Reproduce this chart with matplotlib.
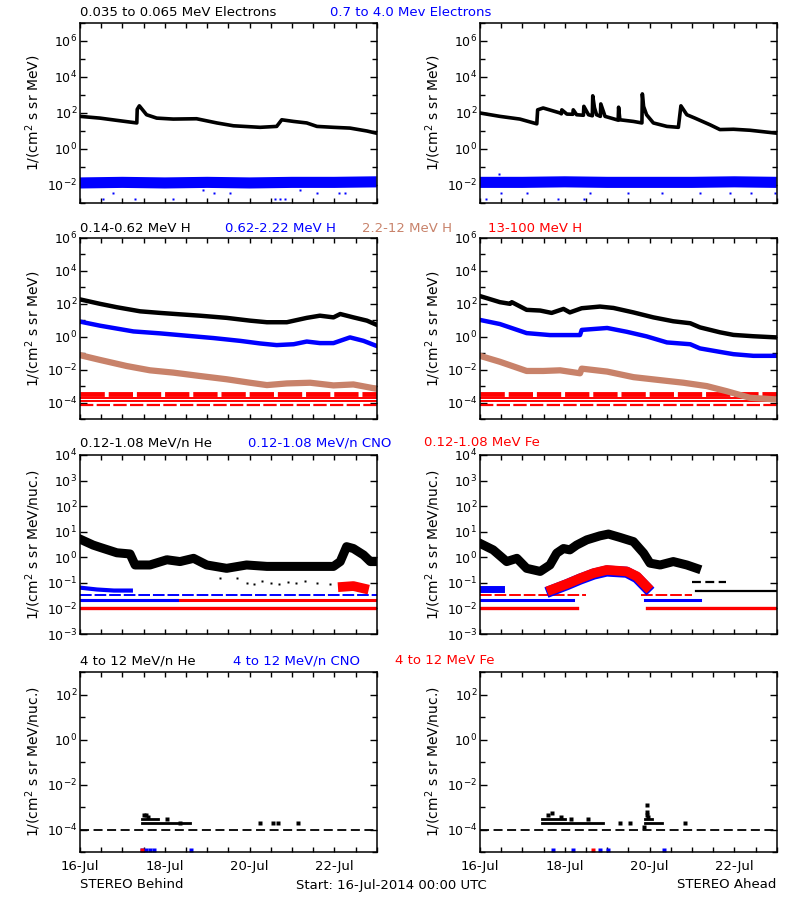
import numpy as np
import matplotlib.pyplot as plt
from matplotlib.ticker import FixedLocator, MultipleLocator, NullFormatter

plt.rcParams['font.family'] = 'DejaVu Sans'
plt.rcParams['font.size'] = 9
plt.rcParams['mathtext.fontset'] = 'dejavusans'

BLUE = '#0000ff'
RED = '#ff0000'
BROWN = '#c8826a'

# ---- row 1 : electrons (days since 16-Jul 00:00) ----
eB_t = [0, 0.47, 0.87, 1.34, 1.35, 1.40, 1.57, 1.81, 2.20, 2.75, 3.23, 3.62, 4.25, 4.64, 4.76, 5.04,
        5.35, 5.59, 5.98, 6.37, 6.77, 6.99]
eB_v = [65, 52, 39, 28, 160, 250, 80, 52, 46, 48, 28, 19.5, 16, 18, 42, 34, 28, 18, 16, 14.5, 10, 7.6]
eA_t = [0, 0.47, 0.94, 1.34, 1.36, 1.49, 1.89, 1.92, 1.93, 2.05, 2.19, 2.20, 2.28, 2.44, 2.45, 2.56,
        2.65, 2.66, 2.70, 2.75, 2.84, 2.85, 2.95, 3.26, 3.27, 3.30, 3.62, 3.82, 3.83, 3.86, 3.93, 4.09,
        4.41, 4.68, 4.74, 4.88, 5.07, 5.43, 5.66, 5.98, 6.37, 6.99]
eA_v = [100, 65, 46, 25, 150, 190, 100, 90, 150, 87, 85, 150, 80, 75, 235, 80,
        70, 900, 200, 80, 65, 320, 65, 40, 210, 42, 34, 28, 1150, 230, 80, 28,
        18, 16, 250, 80, 52, 22, 12, 12.5, 11, 7.6]
hiE_t = [0, 1, 2, 3, 4, 5, 6, 7]
hiE_B = [0.013, 0.014, 0.013, 0.014, 0.013, 0.014, 0.014, 0.015]
hiE_A = [0.014, 0.014, 0.015, 0.014, 0.014, 0.014, 0.015, 0.014]
hiE_B_out_t = [0.55, 0.79, 1.30, 2.20, 3.15, 3.55, 4.60, 4.72, 4.84, 5.60, 6.10, 6.25, 2.9, 5.2]
hiE_B_out_v = [0.0016, 0.0034, 0.0016, 0.0016, 0.0034, 0.0034, 0.0016, 0.0016, 0.0016, 0.0034,
               0.0034, 0.0034, 0.005, 0.005]
hiE_A_out_t = [0.15, 0.5, 1.1, 1.85, 2.45, 2.6, 3.5, 4.3, 5.2, 5.9, 6.4, 6.95, 0.45]
hiE_A_out_v = [0.0016, 0.0034, 0.0034, 0.0016, 0.0016, 0.0034, 0.0034, 0.0034, 0.0034, 0.0034,
               0.0034, 0.0034, 0.04]

# ---- row 2 : protons ----
p1B_t = [0, 0.47, 0.87, 1.42, 1.89, 2.36, 2.83, 3.46, 4.01, 4.41, 4.88, 5.35, 5.66, 5.98, 6.14, 6.45,
         6.77, 6.99]
p1B_v = [186, 100, 62, 35, 28, 23, 19, 14, 9.5, 7.6, 7.6, 14, 19, 15, 24, 15, 9.5, 5.4]
p2B_t = [0, 0.47, 1.26, 1.89, 2.52, 3.15, 3.78, 4.25, 4.64, 5.04, 5.35, 5.66, 5.98, 6.37, 6.69, 6.99]
p2B_v = [8.3, 4.7, 2.1, 1.6, 1.15, 0.83, 0.56, 0.39, 0.31, 0.35, 0.51, 0.41, 0.41, 0.91, 0.56, 0.28]
p3B_t = [0, 0.47, 1.10, 1.65, 2.20, 2.83, 3.46, 4.01, 4.41, 4.88, 5.43, 5.98, 6.45, 6.99]
p3B_v = [0.076, 0.039, 0.0166, 0.0091, 0.0066, 0.0041, 0.0026, 0.0016, 0.00115, 0.00145, 0.0016,
         0.0011, 0.00126, 0.00069]
p1A_t = [0, 0.47, 0.71, 0.75, 1.10, 1.42, 1.69, 1.97, 2.12, 2.40, 2.83, 3.15, 3.62, 4.09, 4.56, 4.96,
         5.19, 5.66, 5.98, 6.45, 6.99]
p1A_v = [295, 126, 100, 126, 43, 39, 28, 49, 30, 54, 68, 56, 30, 15, 8.7, 6.6, 3.7, 1.86, 1.29, 1.07,
         0.91]
p2A_t = [0, 0.47, 1.10, 1.65, 2.36, 2.40, 3.0, 3.46, 3.93, 4.41, 4.96, 5.19, 5.66, 5.98, 6.45, 6.99]
p2A_v = [10.5, 5.9, 1.66, 1.26, 1.26, 2.6, 3.4, 2.0, 1.05, 0.45, 0.35, 0.195, 0.12, 0.087, 0.069,
         0.069]
p3A_t = [0, 0.47, 1.10, 1.49, 1.89, 2.36, 2.40, 3.0, 3.62, 4.25, 4.80, 5.35, 5.82, 6.37, 6.99]
p3A_v = [0.069, 0.030, 0.0083, 0.0083, 0.0091, 0.006, 0.0115, 0.0076, 0.0035, 0.0023, 0.0016, 0.001,
         0.00049, 0.000195, 0.000155]
# 13-100 MeV H sits on count-rate floors
p4_band = 3.2e-4
p4_lines = [1.8e-4, 1.3e-4]
p4_dash = 6.9e-5

# ---- row 3 : low energy heavy ions ----
heB_t = [0.04, 0.31, 0.47, 0.87, 1.18, 1.30, 1.65, 2.05, 2.36, 2.68, 2.99, 3.46, 3.93, 4.41, 4.88,
         5.35, 5.98, 6.14, 6.29, 6.45, 6.69, 6.85, 6.99]
heB_v = [4.8, 3.0, 2.45, 1.5, 1.35, 0.5, 0.5, 0.8, 0.68, 0.91, 0.5, 0.37, 0.5, 0.44, 0.44, 0.44, 0.44,
         0.68, 2.6, 2.2, 1.23, 0.68, 0.68]
heB_out_t = [3.95, 4.1, 4.3, 4.5, 4.7, 4.9, 5.1, 5.3, 5.6, 5.9, 3.3, 3.7]
heB_out_v = [0.1, 0.09, 0.12, 0.1, 0.09, 0.11, 0.1, 0.12, 0.1, 0.09, 0.16, 0.15]
heA_t = [0, 0.31, 0.63, 0.87, 1.10, 1.42, 1.65, 1.81, 1.97, 2.12, 2.28, 2.52, 2.83, 3.03, 3.30, 3.62,
         3.86, 4.01, 4.25, 4.56, 4.88, 5.11]
heA_v = [3.5, 1.95, 0.68, 0.91, 0.37, 0.28, 0.5, 1.45, 2.2, 1.95, 3.0, 4.8, 6.9, 8.1, 6.0, 4.1, 1.45,
         0.59, 0.5, 0.68, 0.5, 0.37]
heA_floor1_t = [5.0, 5.8]
heA_floor2_t = [5.1, 7.0]
heA_floor1 = 0.112
heA_floor2 = 0.05
cnoA_t = [1.69, 2.05, 2.36, 2.68, 2.99, 3.46, 3.70, 3.93]
cnoA_v = [0.05, 0.085, 0.14, 0.22, 0.29, 0.26, 0.16, 0.065]
feA_v = [0.054, 0.091, 0.15, 0.24, 0.32, 0.28, 0.18, 0.072]
cnoB_t = [0, 0.4, 0.8, 1.2]
cnoB_v = [0.065, 0.055, 0.05, 0.05]
feB_t = [6.2, 6.45, 6.7]
feB_v = [0.07, 0.075, 0.06]
levels3 = [0.034, 0.022, 0.0105]

# ---- row 4 : 4-12 MeV/n ions ----
bg4 = 1e-4
he4B_seg = [(1.46, 2.60, 1.85e-4), (1.46, 1.85, 2.8e-4)]
he4B_pt_t = [1.50, 1.55, 1.60, 2.05, 2.35, 4.25, 4.56, 4.67, 5.15]
he4B_pt_v = [4.4e-4, 4.4e-4, 3.6e-4, 2.8e-4, 1.85e-4, 1.85e-4, 1.85e-4, 1.85e-4, 1.85e-4]
io4B_t = [1.46, 1.55, 1.65, 1.75, 2.63]
io4B_v = [1.2e-5, 1.2e-5, 1.2e-5, 1.2e-5, 1.2e-5]
he4A_seg = [(1.46, 2.90, 1.85e-4), (1.46, 2.00, 2.8e-4), (3.90, 4.30, 1.85e-4), (3.90, 4.05, 2.8e-4)]
he4A_pt_t = [1.60, 1.70, 1.90, 2.15, 2.55, 3.30, 3.53, 4.84, 3.93, 3.95, 3.95, 3.97, 3.86]
he4A_pt_v = [4.4e-4, 5.3e-4, 3.6e-4, 2.8e-4, 2.8e-4, 1.85e-4, 1.85e-4, 1.85e-4, 1.2e-3, 6.2e-4,
             4.4e-4, 3.6e-4, 1.3e-4]
cno4A_t = [1.73, 2.20, 2.83, 3.03, 4.33]
fe4A_t = [2.66]

xt_pos = [0, 2, 4, 6]
xt_lab = ['16-Jul', '18-Jul', '20-Jul', '22-Jul']

fig = plt.figure(figsize=(8, 9), dpi=100)


def mk(left, top, bottom, ylo, yhi, step, ylab):
    ax = fig.add_axes([left / 800, 1 - bottom / 900, 296.7 / 800, (bottom - top) / 900])
    ax.set_yscale('log')
    ax.set_xlim(0, 7)
    ax.set_ylim(10.0 ** ylo, 10.0 ** yhi)
    if step == 2:
        first = ylo + 1 if ylo % 2 else ylo
        major = [10.0 ** k for k in range(first, yhi + 1, 2)]
    else:
        major = [10.0 ** k for k in range(ylo, yhi + 1)]
    minor = [10.0 ** k for k in range(ylo, yhi + 1)]
    ax.yaxis.set_major_locator(FixedLocator(major))
    ax.yaxis.set_minor_locator(FixedLocator(minor))
    ax.yaxis.set_minor_formatter(NullFormatter())
    ax.set_yticklabels([r'$10^{%d}$' % round(np.log10(m)) for m in major], fontsize=9)
    ax.xaxis.set_major_locator(FixedLocator(xt_pos))
    ax.xaxis.set_minor_locator(MultipleLocator(0.5))
    ax.set_xticklabels([])
    ax.tick_params(axis='x', which='both', direction='in', top=True, length=3.5, width=1)
    ax.tick_params(axis='y', which='major', direction='in', right=True, length=5, width=1, pad=2)
    ax.tick_params(axis='y', which='minor', direction='in', right=True, length=3.5, width=1)
    for s in ax.spines.values():
        s.set_linewidth(1.1)
    ax.set_ylabel(ylab, fontsize=10)
    ax.yaxis.set_label_coords(-0.125, 0.5)
    return ax


lab1 = r'1/(cm$^2$ s sr MeV)'
lab3 = r'1/(cm$^2$ s sr MeV/nuc.)'
LX, RX = 80, 480

# row 1
for x0, bt, bv, ot, ov, et, ev in [(LX, hiE_t, hiE_B, hiE_B_out_t, hiE_B_out_v, eB_t, eB_v),
                                   (RX, hiE_t, hiE_A, hiE_A_out_t, hiE_A_out_v, eA_t, eA_v)]:
    ax = mk(x0, 23, 203, -3, 7, 2, lab1)
    ax.plot(bt, bv, color=BLUE, lw=8, solid_capstyle='butt')
    ax.plot(ot, ov, 's', color=BLUE, ms=1.8, mec='none')
    ax.plot(et, ev, color='k', lw=2.6)

# row 2
for x0, a, b, c in [(LX, (p1B_t, p1B_v), (p2B_t, p2B_v), (p3B_t, p3B_v)),
                    (RX, (p1A_t, p1A_v), (p2A_t, p2A_v), (p3A_t, p3A_v))]:
    ax = mk(x0, 238, 419, -5, 6, 2, lab1)
    ax.axhline(p4_band, color=RED, lw=3.5, dashes=(5, 0.8))
    for lv in p4_lines:
        ax.axhline(lv, color=RED, lw=1.4)
    ax.axhline(p4_dash, color=RED, lw=1.6, dashes=(6, 1.5))
    ax.plot(*c, color=BROWN, lw=4.5)
    ax.plot(*b, color=BLUE, lw=3.2)
    ax.plot(*a, color='k', lw=3.2)

# row 3 left
ax = mk(LX, 455, 634, -3, 4, 1, lab3)
ax.axhline(levels3[0], color=BLUE, lw=1.4, dashes=(6, 1.5))
ax.axhline(levels3[1], color=RED, lw=2.2)
ax.plot([0, 2.3], [levels3[1]] * 2, color=BLUE, lw=2.2)
ax.axhline(levels3[2], color=RED, lw=2.4)
ax.plot(cnoB_t, cnoB_v, color=BLUE, lw=3)
ax.plot(feB_t, feB_v, color=RED, lw=7)
ax.plot(heB_out_t, heB_out_v, 's', color='k', ms=2, mec='none')
ax.plot(heB_t, heB_v, color='k', lw=6.5)

# row 3 right
ax = mk(RX, 455, 634, -3, 4, 1, lab3)
ax.plot([0, 2.5], [levels3[0]] * 2, color=RED, lw=1.4, dashes=(6, 1.5))
ax.plot([3.8, 5.0], [levels3[0]] * 2, color=RED, lw=1.4, dashes=(6, 1.5))
ax.plot([0, 2.2], [levels3[1]] * 2, color=BLUE, lw=2.2)
ax.plot([3.9, 5.2], [levels3[1]] * 2, color=BLUE, lw=2.2)
ax.plot([0, 2.3], [levels3[2]] * 2, color=RED, lw=2.4)
ax.plot([3.95, 7.0], [levels3[2]] * 2, color=RED, lw=2.4)
ax.plot([0, 0.5], [0.06, 0.06], color=BLUE, lw=5)
ax.plot(heA_floor1_t, [heA_floor1] * 2, color='k', lw=1.6, dashes=(4, 2))
ax.plot(heA_floor2_t, [heA_floor2] * 2, color='k', lw=1.6)
ax.plot(heA_t, heA_v, color='k', lw=6.5)
ax.plot(cnoA_t, cnoA_v, color=BLUE, lw=8)
ax.plot(cnoA_t, feA_v, color=RED, lw=7)

# row 4
for x0, segs, pt, pv, side in [(LX, he4B_seg, he4B_pt_t, he4B_pt_v, 'B'),
                               (RX, he4A_seg, he4A_pt_t, he4A_pt_v, 'A')]:
    ax = mk(x0, 672, 852, -5, 3, 2, lab3)
    ax.axhline(bg4, color='k', lw=1.3, dashes=(5, 2.5))
    for t0, t1, v in segs:
        ax.plot([t0, t1], [v, v], color='k', lw=2)
    ax.plot(pt, pv, 's', color='k', ms=2.2, mec='none')
    if side == 'B':
        ax.plot(io4B_t, io4B_v, 's', color=BLUE, ms=2.2, mec='none')
        ax.plot(io4B_t[:1], io4B_v[:1], 's', color=RED, ms=2.2, mec='none')
    else:
        ax.plot(cno4A_t, [1.2e-5] * len(cno4A_t), 's', color=BLUE, ms=2.4, mec='none')
        ax.plot(fe4A_t, [1.2e-5], 's', color=RED, ms=2.4, mec='none')
    ax.set_xticklabels(xt_lab, fontsize=9.5)
    ax.tick_params(axis='x', pad=6)


def txt(x, y, s, c='k', ha='left'):
    fig.text(x / 800, 1 - y / 900, s, color=c, ha=ha, va='center', fontsize=9.5)


txt(80, 13, '0.035 to 0.065 MeV Electrons')
txt(330, 13, '0.7 to 4.0 Mev Electrons', BLUE)
txt(80, 228, '0.14-0.62 MeV H')
txt(225, 228, '0.62-2.22 MeV H', BLUE)
txt(362, 228, '2.2-12 MeV H', BROWN)
txt(488, 228, '13-100 MeV H', RED)
txt(80, 443, '0.12-1.08 MeV/n He')
txt(248, 443, '0.12-1.08 MeV/n CNO', BLUE)
txt(424, 443, '0.12-1.08 MeV Fe', RED)
txt(80, 661, '4 to 12 MeV/n He')
txt(233, 661, '4 to 12 MeV/n CNO', BLUE)
txt(395, 661, '4 to 12 MeV Fe', RED)
txt(80, 885, 'STEREO Behind')
txt(296, 885, 'Start: 16-Jul-2014 00:00 UTC')
txt(776, 885, 'STEREO Ahead', ha='right')

fig.savefig('out.png', dpi=100)
